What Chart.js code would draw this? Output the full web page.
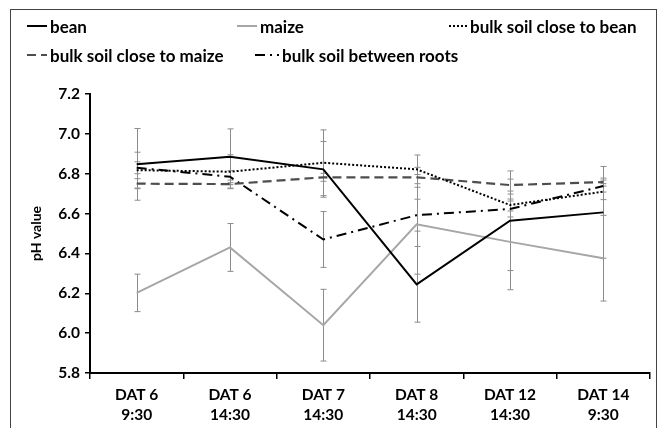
<!DOCTYPE html>
<html>
<head>
<meta charset="utf-8">
<script src="https://cdn.jsdelivr.net/npm/chart.js@4/dist/chart.umd.min.js"></script>
<style>
  html, body { margin: 0; padding: 0; background: #fff; }
  #wrap { position: relative; width: 663px; height: 428px; overflow: hidden; }
  #frame { position: absolute; left: 10px; top: 9px; width: 647px; height: 440px; border: 1px solid #444; box-sizing: border-box; }
  canvas { position: absolute; left: 0; top: 0; }
  .lg { position: absolute; font: bold 17px Lato, "Liberation Sans", sans-serif; color: #000; white-space: nowrap; display: flex; align-items: center; }
  .lg svg { margin-right: 3px; }
</style>
</head>
<body>
<div id="wrap">
  <div id="frame"></div>
  <canvas id="c" width="663" height="428"></canvas>
  <div id="legend"></div>
</div>
<script>
// ---- data ----
const dayLabels = ["DAT 6", "DAT 6", "DAT 7", "DAT 8", "DAT 12", "DAT 14"];
const timeLabels = ["9:30", "14:30", "14:30", "14:30", "14:30", "9:30"];
const seriesNames = ["bean", "maize", "bulk soil close to bean", "bulk soil close to maize", "bulk soil between roots"];
const bean = [6.847, 6.885, 6.822, 6.245, 6.564, 6.606];
const maize = [6.202, 6.43, 6.04, 6.546, 6.458, 6.376];
const bulkBean = [6.818, 6.81, 6.855, 6.822, 6.643, 6.71];
const bulkMaize = [6.75, 6.748, 6.782, 6.782, 6.743, 6.758];
const bulkRoots = [6.83, 6.785, 6.47, 6.592, 6.623, 6.738];
const beanErr = [0.18, 0.14, 0.14, 0.19, 0.25, 0.23];
const maizeErr = [0.094, 0.12, 0.18, 0.25, 0.24, 0.215];
const bulkBeanErr = [0.09, 0.085, 0.165, 0.072, 0.03, 0.04];
const bulkMaizeErr = [0.025, 0.02, 0.02, 0.05, 0.03, 0.02];
const bulkRootsErr = [0.03, 0.03, 0.14, 0.08, 0.04, 0.03];
const yMin = 5.8, yMax = 7.2, yStep = 0.2;

// ---- styles ----
const styles = [
  { color: "#000000", dash: [], width: 2 },
  { color: "#a6a6a6", dash: [], width: 2 },
  { color: "#000000", dash: [2, 2], width: 2 },
  { color: "#4d4d4d", dash: [9, 5], width: 2.2 },
  { color: "#000000", dash: [10, 5, 2, 5], width: 2 }
];
const values = [bean, maize, bulkBean, bulkMaize, bulkRoots];
const errors = [beanErr, maizeErr, bulkBeanErr, bulkMaizeErr, bulkRootsErr];

const FONT = "Lato, 'Liberation Sans', sans-serif";

const errorBars = {
  id: "errorBars",
  beforeDatasetsDraw(chart) {
    const ctx = chart.ctx, xs = chart.scales.x, ys = chart.scales.y;
    ctx.save();
    ctx.strokeStyle = "#8c8c8c";
    ctx.lineWidth = 1;
    chart.data.datasets.forEach((ds, i) => {
      ds.data.forEach((v, j) => {
        const e = errors[i][j];
        const x = Math.round(xs.getPixelForValue(j)) + 0.5;
        const y1 = ys.getPixelForValue(v + e), y2 = ys.getPixelForValue(v - e);
        ctx.beginPath();
        ctx.moveTo(x, y1); ctx.lineTo(x, y2);
        ctx.moveTo(x - 3, y1); ctx.lineTo(x + 3, y1);
        ctx.moveTo(x - 3, y2); ctx.lineTo(x + 3, y2);
        ctx.stroke();
      });
    });
    ctx.restore();
  }
};

new Chart(document.getElementById("c"), {
  type: "line",
  data: {
    labels: dayLabels.map((d, i) => [d, timeLabels[i]]),
    datasets: values.map((v, i) => ({
      label: seriesNames[i],
      data: v,
      borderColor: styles[i].color,
      borderDash: styles[i].dash,
      borderWidth: styles[i].width,
      pointRadius: 0,
      tension: 0,
      fill: false
    }))
  },
  options: {
    responsive: false,
    animation: false,
    events: [],
    layout: { padding: { left: 0, right: 13, top: 94, bottom: 0 } },
    plugins: { legend: { display: false }, tooltip: { enabled: false } },
    scales: {
      x: {
        offset: true,
        grid: { display: true, offset: true, drawOnChartArea: false, drawTicks: true, tickLength: 6, color: "#000", lineWidth: 1.5 },
        border: { display: true, color: "#000", width: 2 },
        ticks: { color: "#000", padding: 6, font: { family: FONT, size: 15.5, weight: "bold", lineHeight: 1.3 }, maxRotation: 0 },
        afterFit: s => { s.height = 55; }
      },
      y: {
        min: yMin, max: yMax,
        grid: { display: true, drawOnChartArea: false, drawTicks: true, tickLength: 5, color: "#000", lineWidth: 1.5 },
        border: { display: true, color: "#000", width: 2 },
        ticks: { stepSize: yStep, color: "#000", padding: 5, font: { family: FONT, size: 15.5, weight: "bold" }, callback: v => Number(v).toFixed(1) },
        title: { display: true, text: "pH value", color: "#000", font: { family: FONT, size: 14, weight: "bold" }, padding: { top: 28, bottom: 0 } },
        afterFit: s => { s.width = 90; }
      }
    }
  },
  plugins: [errorBars]
});

// ---- HTML legend ----
const legendPos = [
  { x: 27, y: 26, w: 20 },
  { x: 237, y: 26, w: 20 },
  { x: 449, y: 26, w: 18 },
  { x: 27, y: 55, w: 20 },
  { x: 255, y: 55, w: 24 }
];
const lg = document.getElementById("legend");
seriesNames.forEach((name, i) => {
  const p = legendPos[i], st = styles[i];
  const div = document.createElement("div");
  div.className = "lg";
  div.style.left = p.x + "px";
  div.style.top = (p.y - 10) + "px";
  div.style.height = "20px";
  const svgNS = "http://www.w3.org/2000/svg";
  const svg = document.createElementNS(svgNS, "svg");
  svg.setAttribute("width", p.w);
  svg.setAttribute("height", 6);
  const ln = document.createElementNS(svgNS, "line");
  ln.setAttribute("x1", 0); ln.setAttribute("x2", p.w);
  ln.setAttribute("y1", 3); ln.setAttribute("y2", 3);
  ln.setAttribute("stroke", st.color);
  ln.setAttribute("stroke-width", st.width);
  if (st.dash.length) ln.setAttribute("stroke-dasharray", st.dash.join(" "));
  svg.appendChild(ln);
  div.appendChild(svg);
  const span = document.createElement("span");
  span.textContent = (i >= 2 && i <= 3 ? " " : "") + name;
  div.appendChild(span);
  lg.appendChild(div);
});
</script>
</body>
</html>
